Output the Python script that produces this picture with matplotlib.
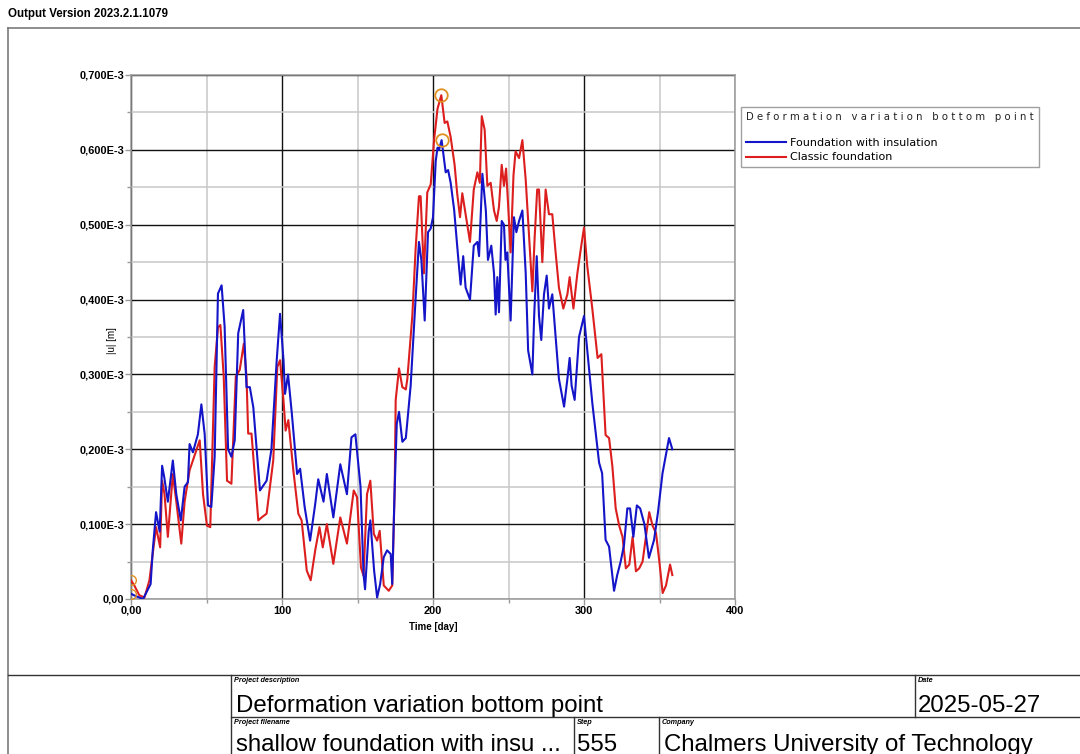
import numpy as np
import matplotlib
matplotlib.use('Agg')
import matplotlib.pyplot as plt
from matplotlib.ticker import MultipleLocator, FuncFormatter

# ---- data (|u| in 1E-3 m) ----
days_ins = [0, 3, 8, 13, 14.4, 16.6, 19, 20.6, 22, 24.4, 27.7, 30, 33, 35.5, 37.7, 38.8, 41, 44.3,
            46.6, 48.8, 51, 53.2, 55.4, 57.6, 60, 62, 64.3, 66.5, 68.7, 71, 74.3, 76.5, 78.7, 81,
            85.4, 89.8, 93, 96.5, 98.7, 101, 102, 104, 106.5, 110, 112, 115, 118.6, 122, 124,
            127.5, 129.7, 134, 138.6, 143, 146, 148.6, 152, 154, 155, 157.4, 158.5, 161, 163, 165,
            167.4, 169.6, 172, 173, 174.5, 176, 177.5, 179.7, 182, 185.2, 188.5, 190.7, 192.3,
            194.5, 196.7, 198.5, 200, 201.8, 203, 204, 205.7, 208.4, 210, 211.7, 214, 216.6, 218.3,
            220, 221.6, 224.5, 227, 229.4, 230.5, 232.7, 235, 236.4, 238.6, 240.4, 241.5, 242.6,
            243.7, 245.5, 247, 248, 249.2, 251.4, 253.6, 255.2, 257, 259.2, 261.4, 263, 265.8, 267,
            268.7, 270.2, 271.7, 273.5, 275.3, 276.8, 279, 281.2, 283.4, 286.8, 289, 290.5, 291.8,
            293.8, 296.7, 300, 302.2, 305.5, 310, 312, 314.3, 316.6, 319.9, 322, 324.3, 326.5,
            328.7, 330.5, 332.7, 335, 337.2, 340, 343, 346.4, 349, 352, 356.3, 358.5]
u_ins = [0.007, 0.004, 0.0, 0.02, 0.065, 0.116, 0.09, 0.178, 0.163, 0.13, 0.185, 0.14, 0.105, 0.15,
         0.156, 0.207, 0.196, 0.22, 0.26, 0.22, 0.125, 0.123, 0.19, 0.408, 0.419, 0.364, 0.2, 0.19,
         0.212, 0.355, 0.386, 0.283, 0.283, 0.256, 0.145, 0.158, 0.2, 0.319, 0.381, 0.319, 0.274,
         0.3, 0.248, 0.167, 0.174, 0.123, 0.078, 0.127, 0.16, 0.13, 0.167, 0.109, 0.18, 0.14,
         0.216, 0.22, 0.15, 0.033, 0.013, 0.09, 0.105, 0.038, 0.002, 0.02, 0.056, 0.065, 0.06,
         0.02, 0.14, 0.234, 0.25, 0.21, 0.215, 0.285, 0.402, 0.477, 0.453, 0.372, 0.49, 0.495,
         0.51, 0.585, 0.603, 0.6, 0.613, 0.57, 0.573, 0.556, 0.52, 0.458, 0.42, 0.458, 0.416, 0.4,
         0.472, 0.477, 0.458, 0.568, 0.519, 0.453, 0.472, 0.435, 0.38, 0.43, 0.383, 0.505, 0.5,
         0.453, 0.463, 0.372, 0.51, 0.49, 0.505, 0.519, 0.435, 0.332, 0.3, 0.378, 0.458, 0.378,
         0.346, 0.407, 0.432, 0.388, 0.407, 0.35, 0.294, 0.257, 0.294, 0.322, 0.285, 0.266, 0.35,
         0.378, 0.332, 0.262, 0.182, 0.168, 0.079, 0.07, 0.011, 0.032, 0.05, 0.072, 0.121, 0.121,
         0.083, 0.125, 0.121, 0.1, 0.055, 0.079, 0.116, 0.168, 0.215, 0.2]

days_cls = [0, 2.2, 5.5, 8.9, 12.2, 14.4, 16.6, 19.3, 20.6, 22.2, 24.4, 27.7, 30, 33.3, 35.5, 38.8,
            41, 45.5, 47.7, 50.3, 52.5, 55.4, 57.6, 59.2, 61.4, 63.6, 66.5, 69.4, 72, 74.7, 76.5,
            77.6, 79.8, 84.3, 86.5, 89.8, 94.2, 96.9, 98.7, 101, 102.4, 104.2, 107.5, 110.8, 113,
            116.4, 119, 122, 124.8, 127, 129.7, 134, 138.6, 143, 147.5, 149.7, 152.3, 154, 156.3,
            158.5, 160.8, 163, 164.7, 167.4, 170.7, 173, 174.6, 175.3, 177.5, 179.7, 182, 183,
            186.3, 188.5, 190.7, 191.8, 194, 196.2, 198.5, 200.7, 203, 205.5, 207.7, 209.5, 211.7,
            214.3, 216, 217.9, 219.4, 221.6, 224.5, 227, 229.4, 231, 232.3, 234.2, 236, 238.2,
            240.4, 242.2, 243.7, 245.5, 247, 248.4, 249.7, 251.4, 253.3, 254.7, 257, 259.2, 261.4,
            263.6, 265.8, 267.3, 269, 270.2, 272.4, 274.6, 276.8, 279, 281.2, 283.4, 286.3, 289,
            290.5, 293, 295.6, 298.2, 300, 302.2, 305.5, 309, 311.5, 314.3, 316.6, 318.8, 321,
            323.3, 325.5, 327.7, 330, 332.2, 334.4, 336.6, 338.8, 341, 343.2, 345.4, 347.7, 349.9,
            352.1, 354.3, 357, 358.5]
u_cls = [0.025, 0.018, 0.005, 0.002, 0.025, 0.06, 0.096, 0.069, 0.158, 0.14, 0.083, 0.167, 0.13,
         0.074, 0.13, 0.172, 0.185, 0.212, 0.14, 0.098, 0.096, 0.31, 0.363, 0.366, 0.297, 0.158,
         0.154, 0.297, 0.306, 0.341, 0.297, 0.221, 0.221, 0.105, 0.109, 0.114, 0.185, 0.31, 0.319,
         0.265, 0.225, 0.239, 0.172, 0.114, 0.105, 0.038, 0.025, 0.065, 0.096, 0.069, 0.1, 0.047,
         0.109, 0.074, 0.145, 0.136, 0.042, 0.031, 0.14, 0.158, 0.087, 0.078, 0.091, 0.018,
         0.011, 0.018, 0.145, 0.266, 0.308, 0.283, 0.28, 0.294, 0.378, 0.468, 0.538, 0.538,
         0.435, 0.543, 0.554, 0.613, 0.655, 0.673, 0.636, 0.638, 0.617, 0.58, 0.542, 0.51, 0.542,
         0.514, 0.477, 0.547, 0.57, 0.556, 0.645, 0.627, 0.552, 0.556, 0.519, 0.505, 0.524, 0.58,
         0.552, 0.575, 0.528, 0.463, 0.566, 0.598, 0.589, 0.613, 0.56, 0.486, 0.411, 0.482, 0.547,
         0.547, 0.45, 0.547, 0.514, 0.514, 0.463, 0.416, 0.388, 0.407, 0.43, 0.388, 0.435, 0.472,
         0.496, 0.444, 0.388, 0.322, 0.327, 0.219, 0.215, 0.177, 0.121, 0.098, 0.083, 0.041,
         0.046, 0.083, 0.037, 0.041, 0.05, 0.083, 0.116, 0.098, 0.088, 0.05, 0.008, 0.018, 0.046,
         0.032]

series_names = ['Foundation with insulation', 'Classic foundation']
series_colors = ['#1414c8', '#dc1e1e']
legend_title = 'Deformation variation bottom point'

W, H = 1080, 754
fig = plt.figure(figsize=(W / 100, H / 100), dpi=100)
fig.patch.set_facecolor('white')

# overlay in pixel coordinates for frame / title block
bg = fig.add_axes([0, 0, 1, 1])
bg.set_xlim(0, W)
bg.set_ylim(H, 0)
bg.axis('off')
fc = '#7a7a7a'
bg.plot([8, W], [28, 28], color=fc, lw=1.2)
bg.plot([8, 8], [28, H], color=fc, lw=1.2)
bg.plot([8, W], [675, 675], color='#333333', lw=1.0)
bg.plot([231, 231], [675, H], color='#333333', lw=1.0)
bg.plot([231, W], [717, 717], color='#333333', lw=1.0)
bg.plot([915, 915], [675, 717], color='#333333', lw=1.0)
bg.plot([574, 574], [717, H], color='#333333', lw=1.0)
bg.plot([659, 659], [717, H], color='#333333', lw=1.0)

bg.text(8, 14, 'Output Version 2023.2.1.1079', fontsize=8.3, fontweight='bold',
        family='Liberation Sans', va='center', ha='left')

small = dict(fontsize=5.2, style='italic', fontweight='bold', family='Liberation Sans',
             va='top', ha='left')
big = dict(fontsize=17.3, family='Liberation Sans', va='baseline', ha='left')
bg.text(234, 677, 'Project description', **small)
bg.text(918, 677, 'Date', **small)
bg.text(234, 719, 'Project filename', **small)
bg.text(577, 719, 'Step', **small)
bg.text(662, 719, 'Company', **small)
bg.text(236, 712, 'Deformation variation bottom point', **big)
bg.text(918, 712, '2025-05-27', **big)
bg.text(236, 751, 'shallow foundation with insu ...', **big)
bg.text(577, 751, '555', **big)
bg.text(664, 751, 'Chalmers University of Technology', **big)

# main chart
x0, x1, y0, y1 = 131, 735, 75, 599
ax = fig.add_axes([x0 / W, 1 - y1 / H, (x1 - x0) / W, (y1 - y0) / H])
ax.set_xlim(0, 400)
ax.set_ylim(0, 0.7e-3)

xi = np.array(days_ins)
yi = np.array(u_ins) * 1e-3
xc = np.array(days_cls)
yc = np.array(u_cls) * 1e-3

ax.plot(xi, yi, color=series_colors[0], lw=1.5, label=series_names[0], zorder=4)
ax.plot(xc, yc, color=series_colors[1], lw=1.5, label=series_names[1], zorder=3)

# peak / start markers
for x, y in ((xi, yi), (xc, yc)):
    k = np.argmax(y)
    ax.plot(x[k], y[k], 'o', ms=9, mfc='none', mec='#e09020', mew=1.3, zorder=5)
    ax.plot(x[0], y[0], 'o', ms=7, mfc='none', mec='#e09020', mew=1.0, zorder=5)

ax.xaxis.set_major_locator(MultipleLocator(100))
ax.xaxis.set_minor_locator(MultipleLocator(50))
ax.yaxis.set_major_locator(MultipleLocator(0.1e-3))
ax.yaxis.set_minor_locator(MultipleLocator(0.05e-3))

def yfmt(v, pos):
    if abs(v) < 1e-12:
        return '0,00'
    return ('%.3f' % (v * 1e3)).replace('.', ',') + 'E-3'

def xfmt(v, pos):
    if abs(v) < 1e-9:
        return '0,00'
    return '%d' % v

ax.yaxis.set_major_formatter(FuncFormatter(yfmt))
ax.xaxis.set_major_formatter(FuncFormatter(xfmt))

ax.grid(which='minor', color='#c8c8c8', lw=1.1, zorder=0)
ax.grid(which='major', color='#111111', lw=1.0, zorder=1)
ax.set_axisbelow(True)
for s in ax.spines.values():
    s.set_color('#999999')
    s.set_linewidth(1.1)
ax.tick_params(which='both', color='#999999', length=4, width=1.0, pad=1)
ax.tick_params(which='minor', length=3)
for lab in ax.get_xticklabels() + ax.get_yticklabels():
    lab.set_fontsize(7.9)
    lab.set_fontweight('bold')
    lab.set_family('Liberation Sans')

ax.set_xlabel('Time [day]', fontsize=7, fontweight='bold', family='Liberation Sans', labelpad=4)
ax.set_ylabel('|u| [m]', fontsize=7, family='Liberation Sans')
ax.yaxis.set_label_coords(-0.023, 0.494)

leg_title = '   '.join(' '.join(w) for w in legend_title.split()) + '\n'
leg = ax.legend(loc='upper left', bbox_to_anchor=(741 / W, 1 - 107 / H),
                bbox_transform=fig.transFigure, title=leg_title,
                fontsize=8, title_fontsize=7.3, frameon=True, fancybox=False,
                handlelength=3.6, handletextpad=0.4, borderpad=0.45, labelspacing=0.4,
                borderaxespad=0)
leg.get_frame().set_edgecolor('#888888')
leg.get_frame().set_linewidth(1.0)
leg._legend_box.align = 'left'
leg.get_title().set_family('DejaVu Sans')
leg.get_title().set_color('#222222')

fig.savefig('out.png', dpi=100)
